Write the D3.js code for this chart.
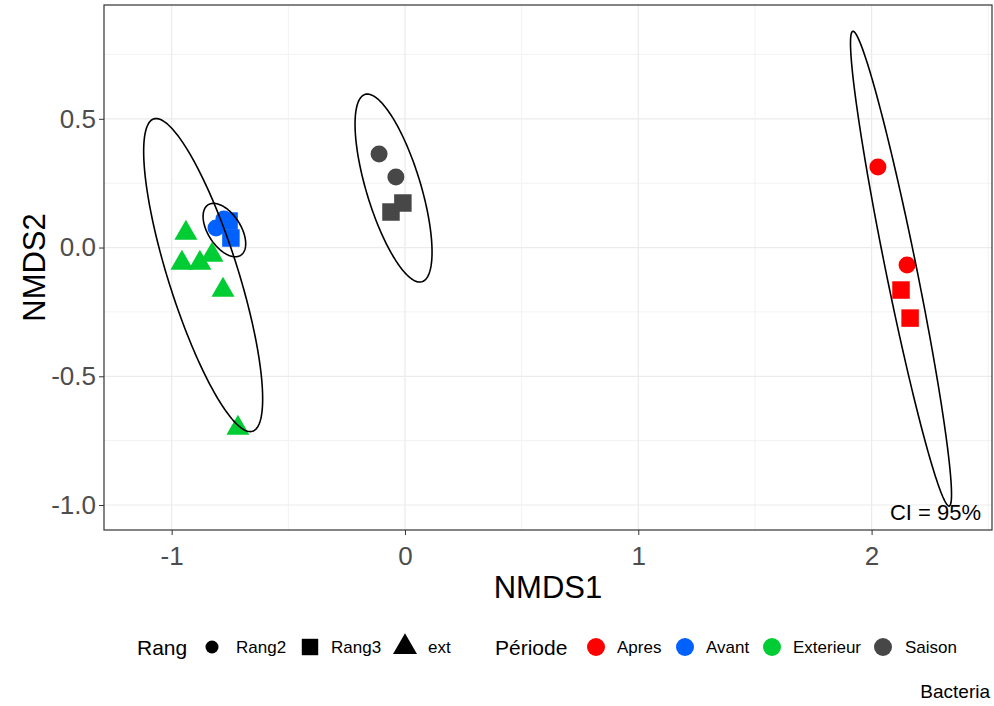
<!DOCTYPE html>
<html>
<head>
<meta charset="utf-8">
<script src="https://cdn.jsdelivr.net/npm/d3@7"></script>
<style>
    body { margin: 0; background: #fff; font-family: "Liberation Sans", Arial, sans-serif; }
    .gridMinor { stroke: #f2f2f2; stroke-width: 1; }
    .gridMajor { stroke: #ebebeb; stroke-width: 1.2; }
    .axis text { fill: #4d4d4d; font-size: 26px; font-family: "Liberation Sans", Arial, sans-serif; }
    .axis line { stroke: #333; }
    .axis path { display: none; }
</style>
</head>
<body>
<script>
(function(){

//sample coordinates
var nmds1   = [2.027, 2.152, 2.126, 2.165,
               -0.810, -0.776, -0.754, -0.746,
               -0.939, -0.956, -0.879, -0.827, -0.780, -0.716,
               -0.111, -0.039, -0.060, -0.009];
var nmds2   = [0.313, -0.068, -0.165, -0.274,
               0.076, 0.111, 0.103, 0.037,
               0.056, -0.060, -0.060, -0.029, -0.165, -0.701,
               0.363, 0.274, 0.138, 0.173];
var periode = ["Apres", "Apres", "Apres", "Apres",
               "Avant", "Avant", "Avant", "Avant",
               "Exterieur", "Exterieur", "Exterieur", "Exterieur", "Exterieur", "Exterieur",
               "Saison", "Saison", "Saison", "Saison"];
var rang    = ["Rang2", "Rang2", "Rang3", "Rang3",
               "Rang2", "Rang2", "Rang3", "Rang3",
               "ext", "ext", "ext", "ext", "ext", "ext",
               "Rang2", "Rang2", "Rang3", "Rang3"];

var periodeLevels = ["Apres", "Avant", "Exterieur", "Saison"];
var periodeColors = ["#ff0000", "#0061ff", "#00cc33", "#474747"];
var rangLevels = ["Rang2", "Rang3", "ext"];

//95% ellipses per group: centre, half extents along x / y, correlation
var ellGroup = ["Apres", "Avant", "Exterieur", "Saison"];
var ellCx    = [2.126, -0.774, -0.865, -0.049];
var ellCy    = [-0.082, 0.068, -0.107, 0.231];
var ellRx    = [0.2165, 0.0913, 0.255, 0.165];
var ellRy    = [0.922, 0.1037, 0.608, 0.365];
var ellRho   = [-0.9505, -0.51, -0.79, -0.68];

var xTicks = [-1, 0, 1, 2];
var yTicks = [-1.0, -0.5, 0.0, 0.5];
var xMinor = [-0.5, 0.5, 1.5, 2.5];
var yMinor = [-0.75, -0.25, 0.25, 0.75];

var width = 994, height = 706;
var panel = {left: 104, right: 992, top: 5, bottom: 530};

var svg = d3.select("body")
    .append("svg")
    .attr("width", width)
    .attr("height", height);

var x = d3.scaleLinear()
    .domain([-1.290, 2.516])
    .range([panel.left, panel.right]);

var y = d3.scaleLinear()
    .domain([-1.097, 0.942])
    .range([panel.bottom, panel.top]);

var color = d3.scaleOrdinal().domain(periodeLevels).range(periodeColors);
var shape = d3.scaleOrdinal().domain(rangLevels)
    .range([d3.symbolCircle, d3.symbolSquare, d3.symbolTriangle]);
var symSize = d3.scaleOrdinal().domain(rangLevels).range([227, 306, 229]);

//grid lines
var grid = svg.append("g");
grid.selectAll(".gx").data(xMinor.filter(function(v){ return x(v) < panel.right; }))
    .enter().append("line").attr("class", "gridMinor")
    .attr("x1", function(d){ return x(d); }).attr("x2", function(d){ return x(d); })
    .attr("y1", panel.top).attr("y2", panel.bottom);
grid.selectAll(".gy").data(yMinor)
    .enter().append("line").attr("class", "gridMinor")
    .attr("y1", function(d){ return y(d); }).attr("y2", function(d){ return y(d); })
    .attr("x1", panel.left).attr("x2", panel.right);
grid.selectAll(".gX").data(xTicks)
    .enter().append("line").attr("class", "gridMajor")
    .attr("x1", function(d){ return x(d); }).attr("x2", function(d){ return x(d); })
    .attr("y1", panel.top).attr("y2", panel.bottom);
grid.selectAll(".gY").data(yTicks)
    .enter().append("line").attr("class", "gridMajor")
    .attr("y1", function(d){ return y(d); }).attr("y2", function(d){ return y(d); })
    .attr("x1", panel.left).attr("x2", panel.right);

//points
var pts = d3.range(nmds1.length);
svg.append("g").selectAll("path")
    .data(pts)
    .enter()
    .append("path")
    .attr("transform", function(i){ return "translate(" + x(nmds1[i]) + "," + y(nmds2[i]) + ")"; })
    .attr("d", function(i){ return d3.symbol().type(shape(rang[i])).size(symSize(rang[i]))(); })
    .style("fill", function(i){ return color(periode[i]); });

//ellipses
var line = d3.line()
    .x(function(d){ return x(d[0]); })
    .y(function(d){ return y(d[1]); })
    .curve(d3.curveLinearClosed);

svg.append("g").selectAll("path")
    .data(ellGroup)
    .enter()
    .append("path")
    .attr("d", function(g, k){
        var s = Math.sqrt(1 - ellRho[k] * ellRho[k]);
        var ring = d3.range(0, 2 * Math.PI, Math.PI / 100).map(function(t){
            return [ellCx[k] + ellRx[k] * Math.cos(t),
                    ellCy[k] + ellRy[k] * (ellRho[k] * Math.cos(t) + s * Math.sin(t))];
        });
        return line(ring);
    })
    .style("fill", "none")
    .style("stroke", "#000")
    .style("stroke-width", 1.6);

//panel border
svg.append("rect")
    .attr("x", panel.left).attr("y", panel.top)
    .attr("width", panel.right - panel.left).attr("height", panel.bottom - panel.top)
    .style("fill", "none").style("stroke", "#333").style("stroke-width", 1.2);

//axes
svg.append("g")
    .attr("class", "axis")
    .attr("transform", "translate(0," + panel.bottom + ")")
    .call(d3.axisBottom(x).tickValues(xTicks).tickFormat(d3.format("d")).tickSizeOuter(0).tickSize(5).tickPadding(12));

svg.append("g")
    .attr("class", "axis")
    .attr("transform", "translate(" + panel.left + ",0)")
    .call(d3.axisLeft(y).tickValues(yTicks).tickFormat(d3.format(".1f")).tickSizeOuter(0).tickSize(5).tickPadding(3));

svg.selectAll(".axis text").text(function(){ return this.textContent.replace("\u2212", "-"); });

//axis titles
svg.append("text")
    .attr("x", (panel.left + panel.right) / 2).attr("y", 598)
    .attr("text-anchor", "middle")
    .style("font-size", "31px")
    .text("NMDS1");

svg.append("text")
    .attr("transform", "translate(45," + (panel.top + panel.bottom) / 2 + ") rotate(-90)")
    .attr("text-anchor", "middle")
    .style("font-size", "31px")
    .text("NMDS2");

svg.append("text")
    .attr("x", 981).attr("y", 520)
    .attr("text-anchor", "end")
    .style("font-size", "22px")
    .text("CI = 95%");

//legend
var ly = 647;
var legend = svg.append("g");
legend.append("text").attr("x", 137).attr("y", ly + 8).style("font-size", "21px").text("Rang");

var rangX = [212, 310, 405];
var rangLabelX = [236, 331, 428];
var rangLegSize = [133, 270, 249];
rangLevels.forEach(function(r, k){
    legend.append("path")
        .attr("transform", "translate(" + rangX[k] + "," + ly + ")")
        .attr("d", d3.symbol().type(shape(r)).size(rangLegSize[k])())
        .style("fill", "#000");
    legend.append("text").attr("x", rangLabelX[k]).attr("y", ly + 6)
        .style("font-size", "17px").text(r);
});

legend.append("text").attr("x", 495).attr("y", ly + 8).style("font-size", "21px").text("Période");

var perX = [596, 685, 772, 883];
var perLabelX = [617, 706, 793, 905];
periodeLevels.forEach(function(p, k){
    legend.append("circle")
        .attr("cx", perX[k]).attr("cy", ly).attr("r", 9)
        .style("fill", color(p));
    legend.append("text").attr("x", perLabelX[k]).attr("y", ly + 6)
        .style("font-size", "17px").text(p);
});

svg.append("text")
    .attr("x", 990).attr("y", 698)
    .attr("text-anchor", "end")
    .style("font-size", "19px")
    .text("Bacteria");

})();
</script>
</body>
</html>
